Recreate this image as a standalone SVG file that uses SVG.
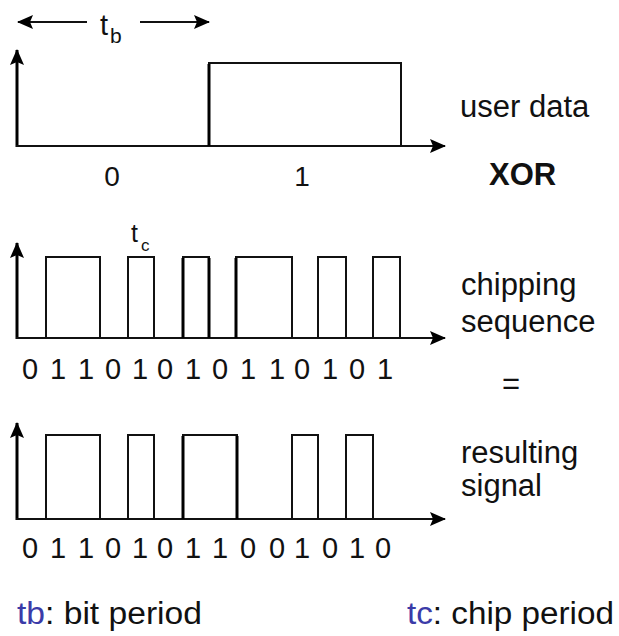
<svg xmlns="http://www.w3.org/2000/svg" width="619" height="636" viewBox="0 0 619 636">
  <defs>
    <marker id="head" markerUnits="userSpaceOnUse" markerWidth="16" markerHeight="14" refX="15" refY="7" orient="auto">
      <path d="M0,0 L16,7 L0,14 L3,7 z" fill="#000"/>
    </marker>
    <style>
      .txt { font-family: "Liberation Sans", Arial, sans-serif; fill: #111; }
      .lbl { font-size: 31px; }
      .bit { font-size: 28px; text-anchor: middle; }
      .chip { font-size: 29px; text-anchor: middle; }
      .axis { stroke: #000; stroke-width: 3; fill: none; }
      .base { stroke: #111; stroke-width: 2; fill: none; }
      .wave { stroke: #111; stroke-width: 2; fill: none; stroke-linejoin: miter; }
      .blue { fill: #3b3ba8; }
    </style>
  </defs>

  <!-- bit period indicator -->
  <g id="bit-period">
    <line x1="87" y1="22" x2="18" y2="22" class="base" stroke-width="2.5" marker-end="url(#head)"/>
    <line x1="140" y1="22" x2="209" y2="22" class="base" stroke-width="2.5" marker-end="url(#head)"/>
    <text class="txt" x="100" y="35" font-size="29">t</text>
    <text class="txt" x="110" y="43" font-size="21">b</text>
  </g>

  <!-- user data waveform -->
  <g id="user-data">
    <line x1="17" y1="147" x2="17" y2="50" class="axis" marker-end="url(#head)"/>
    <line x1="16" y1="146" x2="445" y2="146" class="base" marker-end="url(#head)"/>
    <path d="M209,146 V63 H401 V146" class="wave"/>
    <line x1="209" y1="146" x2="209" y2="64" stroke="#000" stroke-width="3"/>
    <text class="txt bit" x="112" y="186">0</text>
    <text class="txt bit" x="302" y="186">1</text>
    <text class="txt lbl" x="460" y="117">user data</text>
    <text class="txt lbl" x="489" y="185" font-weight="bold">XOR</text>
  </g>

  <!-- chipping sequence waveform -->
  <g id="chipping-sequence">
    <text class="txt" x="131" y="242" font-size="25">t</text>
    <text class="txt" x="141" y="251" font-size="17">c</text>
    <line x1="17" y1="339" x2="17" y2="243" class="axis" marker-end="url(#head)"/>
    <line x1="16" y1="338" x2="445" y2="338" class="base" marker-end="url(#head)"/>
    <path d="M46,338 V257 H100 V338 M128,338 V257 H154 V338 M183,338 V257 H209 V338 M236,338 V257 H292 V338 M318,338 V257 H346 V338 M373,338 V257 H400 V338" class="wave"/>
    <path d="M183,338 V258 M209,338 V258 M236,338 V258" stroke="#000" stroke-width="3"/>
    <g class="txt chip">
      <text x="30" y="379">0</text>
      <text x="58" y="379">1</text>
      <text x="86" y="379">1</text>
      <text x="113" y="379">0</text>
      <text x="140" y="379">1</text>
      <text x="165" y="379">0</text>
      <text x="193" y="379">1</text>
      <text x="220" y="379">0</text>
      <text x="248" y="379">1</text>
      <text x="277" y="379">1</text>
      <text x="302" y="379">0</text>
      <text x="330" y="379">1</text>
      <text x="357" y="379">0</text>
      <text x="385" y="379">1</text>
    </g>
    <text class="txt lbl" x="461" y="295">chipping</text>
    <text class="txt lbl" x="461" y="332">sequence</text>
    <text class="txt lbl" x="511" y="394" text-anchor="middle">=</text>
  </g>

  <!-- resulting signal waveform -->
  <g id="resulting-signal">
    <line x1="17" y1="520" x2="17" y2="423" class="axis" marker-end="url(#head)"/>
    <line x1="16" y1="519" x2="445" y2="519" class="base" marker-end="url(#head)"/>
    <path d="M46,519 V435 H100 V519 M128,519 V435 H154 V519 M183,519 V435 H237 V519 M292,519 V435 H318 V519 M346,519 V435 H373 V519" class="wave"/>
    <path d="M183,519 V436 M237,519 V436" stroke="#000" stroke-width="3"/>
    <g class="txt chip">
      <text x="30" y="558">0</text>
      <text x="58" y="558">1</text>
      <text x="86" y="558">1</text>
      <text x="113" y="558">0</text>
      <text x="140" y="558">1</text>
      <text x="165" y="558">0</text>
      <text x="193" y="558">1</text>
      <text x="220" y="558">1</text>
      <text x="248" y="558">0</text>
      <text x="277" y="558">0</text>
      <text x="302" y="558">1</text>
      <text x="330" y="558">0</text>
      <text x="357" y="558">1</text>
      <text x="383" y="558">0</text>
    </g>
    <text class="txt lbl" x="461" y="463">resulting</text>
    <text class="txt lbl" x="461" y="496">signal</text>
  </g>

  <!-- legend -->
  <g id="legend">
    <text class="txt" x="17" y="624" font-size="31" textLength="185" lengthAdjust="spacingAndGlyphs"><tspan class="blue">tb</tspan>: bit period</text>
    <text class="txt" x="407" y="624" font-size="31" textLength="207" lengthAdjust="spacingAndGlyphs"><tspan class="blue">tc</tspan>: chip period</text>
  </g>
</svg>
